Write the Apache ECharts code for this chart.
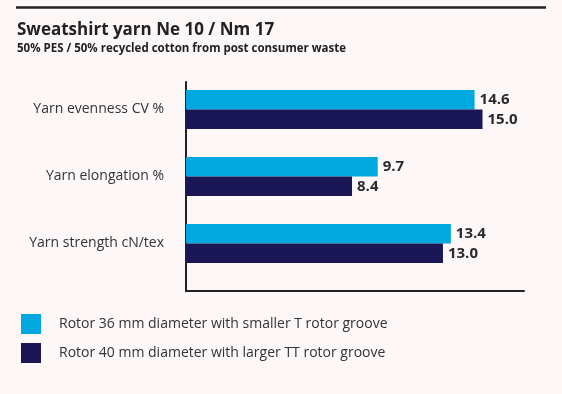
<!DOCTYPE html>
<html>
<head>
<meta charset="utf-8">
<script src="https://cdn.jsdelivr.net/npm/echarts@6/dist/echarts.min.js"></script>
<style>
html,body{margin:0;padding:0;background:#fdf7f8;}
#c{width:562px;height:394px;}
</style>
</head>
<body>
<div id="c"></div>
<script>
const titleText = 'Sweatshirt yarn Ne 10 / Nm 17';
const subtitleText = '50% PES / 50% recycled cotton from post consumer waste';
const categories = ['Yarn evenness CV %', 'Yarn elongation %', 'Yarn strength cN/tex'];
const seriesNames = ['Rotor 36 mm diameter with smaller T rotor groove', 'Rotor 40 mm diameter with larger TT rotor groove'];
const rotor36 = [14.6, 9.7, 13.4];
const rotor40 = [15.0, 8.4, 13.0];
const colors = ['#00a8e0', '#1b1655'];
const font = '"Open Sans", "DejaVu Sans", sans-serif';

const chart = echarts.init(document.getElementById('c'), null, {renderer: 'canvas'});
const labelStyle = {
  show: true, position: 'right', distance: 5,
  fontFamily: font, fontSize: 15, fontWeight: 'bold', color: '#2a2a2a',
  formatter: p => p.value.toFixed(1)
};
chart.setOption({
  backgroundColor: '#fdf7f8',
  animation: false,
  textStyle: {fontFamily: font},
  title: {
    text: titleText, subtext: subtitleText,
    left: 12, top: 17, itemGap: 4,
    textStyle: {fontFamily: font, fontSize: 17, fontWeight: 'bold', color: '#222'},
    subtextStyle: {fontFamily: font, fontSize: 11.5, fontWeight: 'bold', color: '#222'}
  },
  graphic: [{
    type: 'line', shape: {x1: 16, y1: 7.5, x2: 546, y2: 7.5},
    style: {stroke: '#222', lineWidth: 2.5}
  }],
  legend: {
    orient: 'vertical', left: 16, top: 309,
    itemWidth: 20, itemHeight: 20, itemGap: 9, icon: 'rect',
    data: seriesNames,
    textStyle: {fontFamily: font, fontSize: 14, color: '#333', padding: [2, 0, 0, 13]}
  },
  grid: [
    {left: 186, right: 38, top: 76, height: 201},
    {left: 186, right: 38, top: 82, height: 209}
  ],
  xAxis: [
    {type: 'value', gridIndex: 0, min: 0, max: 17.1, show: false},
    {type: 'value', gridIndex: 1, min: 0, max: 17.1,
     axisLine: {show: true, lineStyle: {color: '#222', width: 2}},
     axisTick: {show: false}, axisLabel: {show: false}, splitLine: {show: false}}
  ],
  yAxis: [
    {type: 'category', gridIndex: 0, data: categories, inverse: true,
     axisLine: {show: false}, axisTick: {show: false},
     axisLabel: {margin: 22, fontFamily: font, fontSize: 14, color: '#333'}},
    {type: 'category', gridIndex: 1, data: categories, inverse: true,
     axisLine: {show: true, lineStyle: {color: '#222', width: 2}},
     axisTick: {show: false}, axisLabel: {show: false}}
  ],
  series: [
    {name: seriesNames[0], type: 'bar', xAxisIndex: 0, yAxisIndex: 0, data: rotor36,
     barWidth: 19.5, barGap: '0%', itemStyle: {color: colors[0]}, label: labelStyle},
    {name: seriesNames[1], type: 'bar', xAxisIndex: 0, yAxisIndex: 0, data: rotor40,
     barWidth: 19.5, barGap: '0%', itemStyle: {color: colors[1]}, label: labelStyle}
  ]
});
</script>
</body>
</html>
